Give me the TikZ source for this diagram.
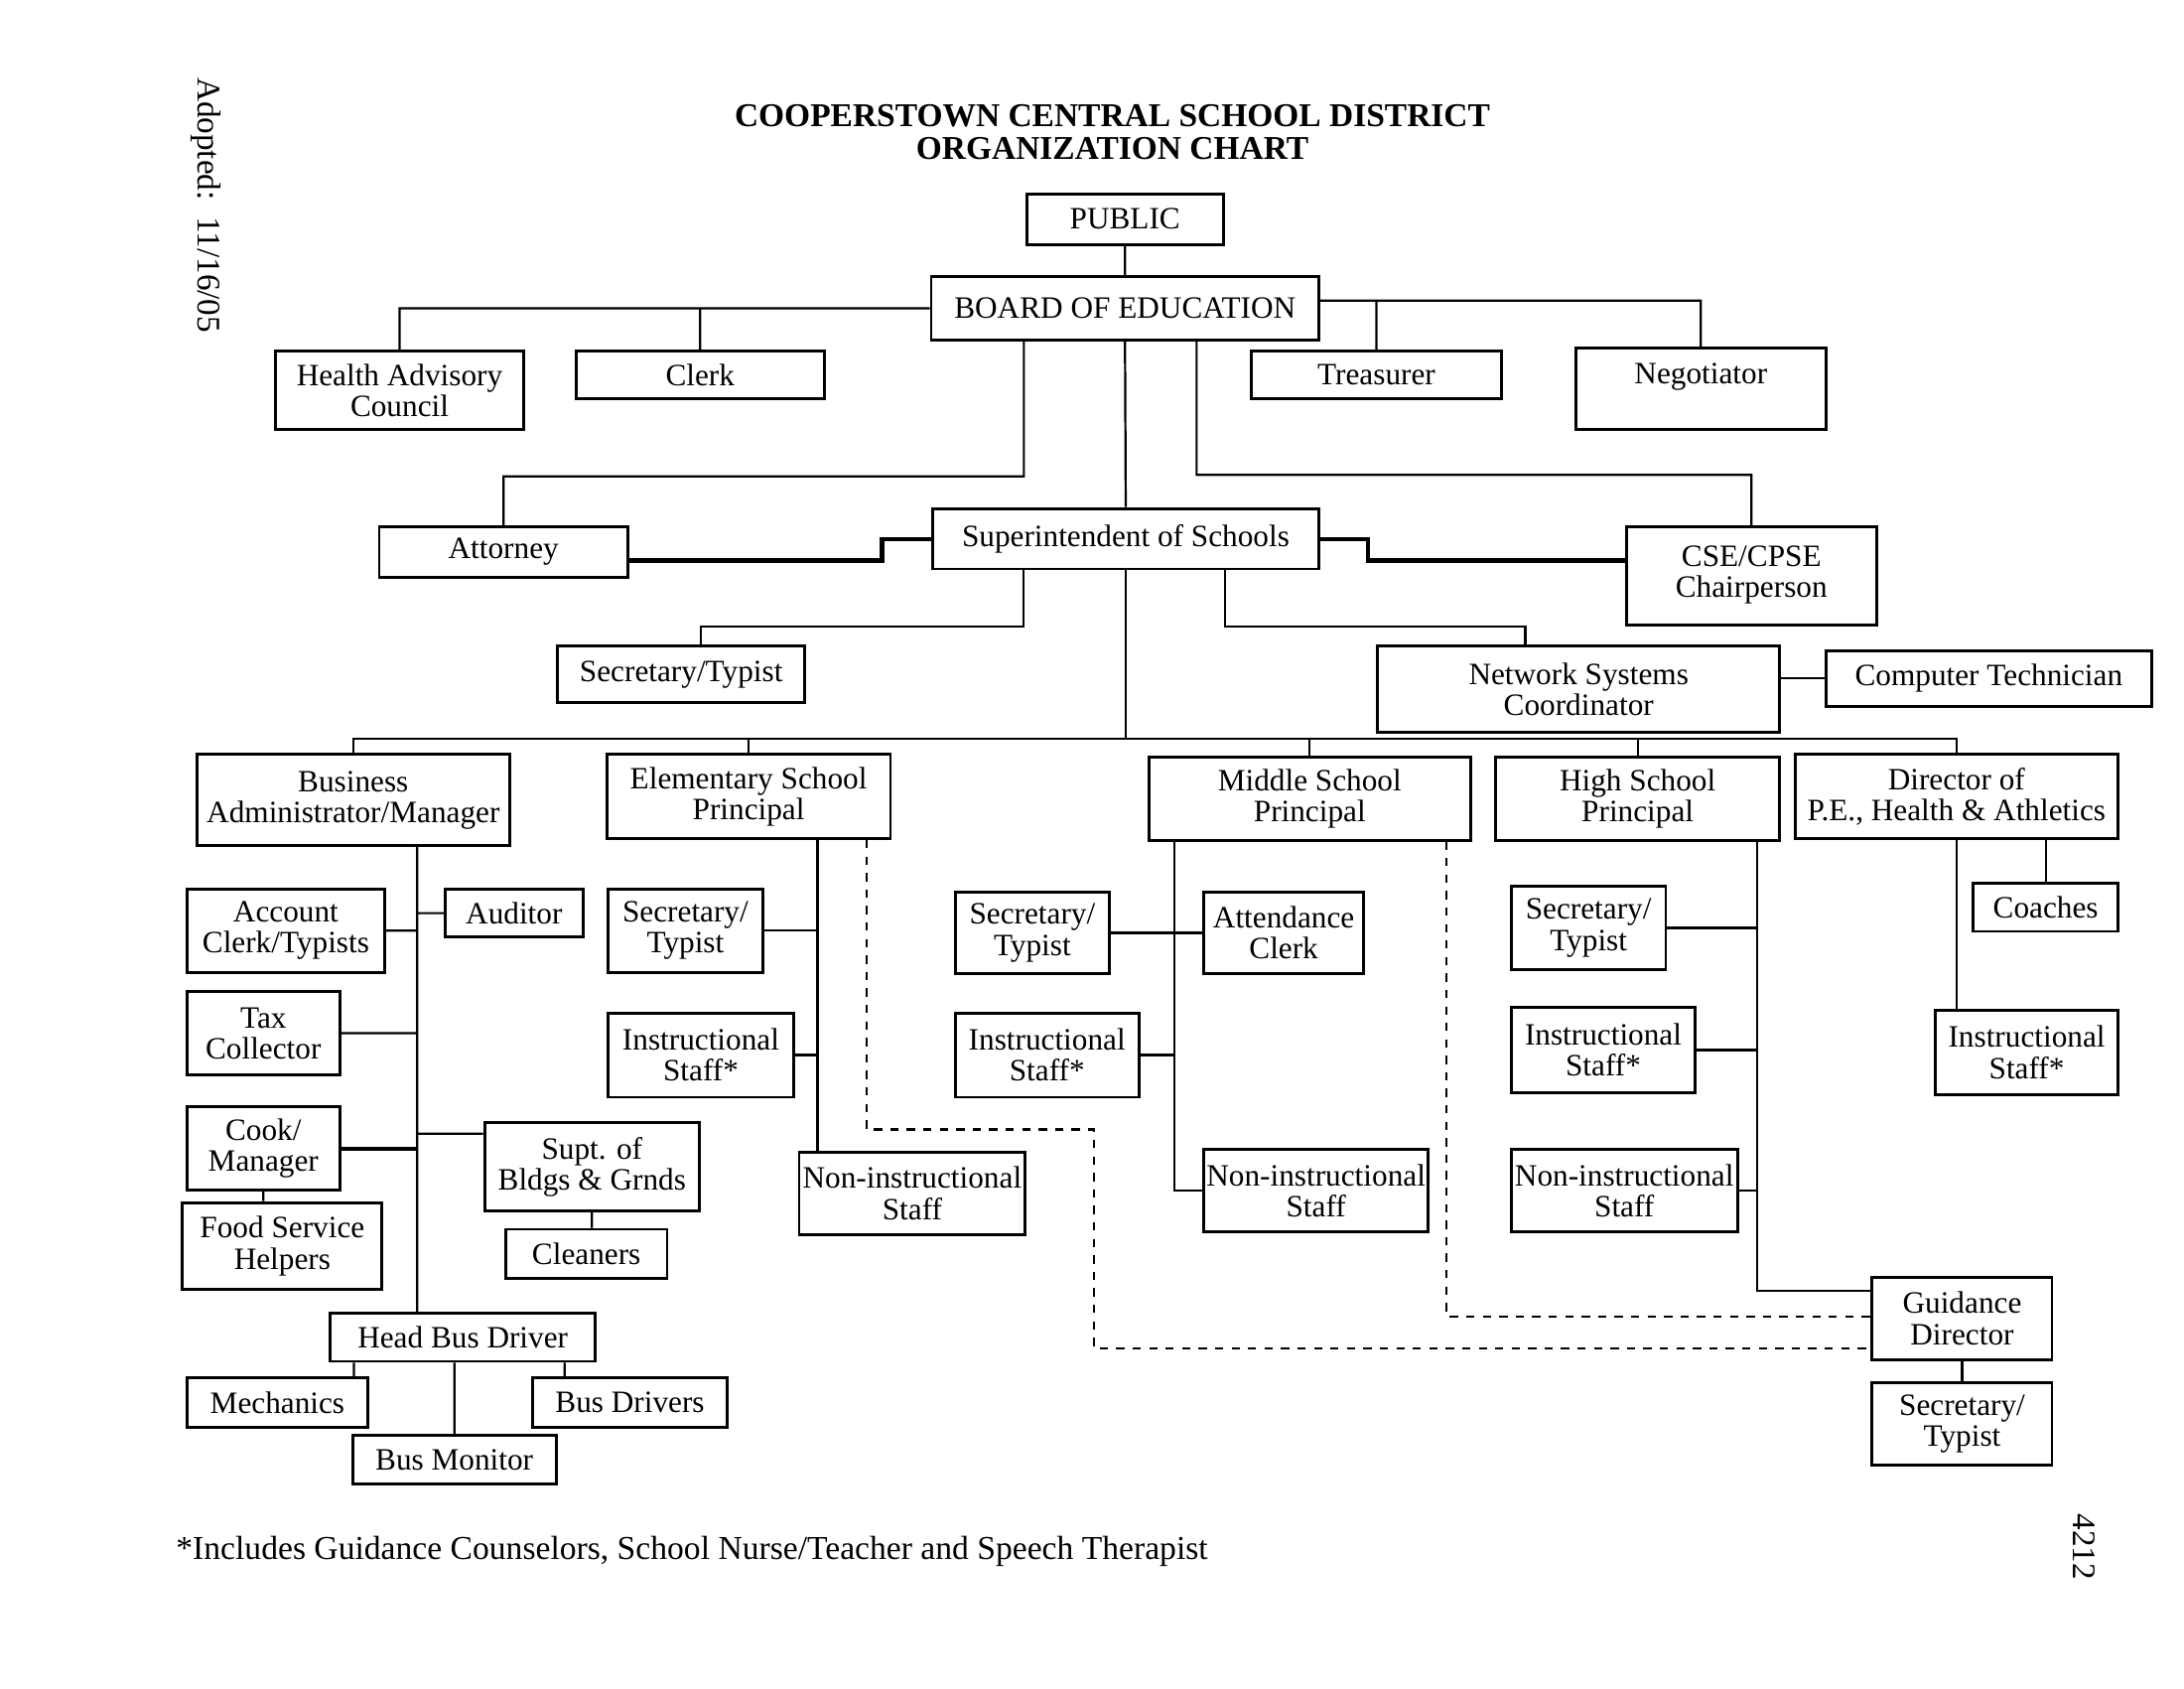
\documentclass[tikz,border=0pt]{standalone}
\usepackage{fontspec}
\setmainfont{Liberation Serif}
\newcommand{\dpx}{0.017968cm}

\begin{document}
\begin{tikzpicture}[x=\dpx, y=-\dpx,
    box/.style 2 args={draw, line width=1.05pt, minimum width=#1*\dpx, minimum height=#2*\dpx,
        inner sep=1pt, align=center, font=\fontsize{11.3}{11.3}\selectfont},
    link/.style={line width=0.8pt},
    thicklink/.style={line width=1.5pt},
    dotlink/.style={line width=0.8pt, dashed}]
    \useasboundingbox (0,0) rectangle (1555,1201.6);
    % headings and margin notes
    \node (title) at (792,94) [align=center, font=\bfseries\fontsize{12.1}{12.2}\selectfont]
        {COOPERSTOWN CENTRAL SCHOOL DISTRICT\\ORGANIZATION CHART};
    \node (adopted) at (147,146) [rotate=-90, font=\fontsize{12}{14}\selectfont] {Adopted:~~11/16/05};
    \node (pageno) at (1484,1101) [rotate=-90, font=\fontsize{12}{14}\selectfont] {4212};
    \node (note) at (125,1104) [anchor=west, inner sep=0pt, font=\fontsize{12.15}{14}\selectfont]
        {*Includes Guidance Counselors, School Nurse/Teacher and Speech Therapist};
    % top
    \node[box={140}{36}] (public) at (801,156) {PUBLIC};
    \node[box={276}{45}] (board) at (801,219.5) {BOARD OF EDUCATION};
    \node[box={177}{56}] (health) at (284.5,278) {Health Advisory\\Council};
    \node[box={177}{34}] (clerk) at (498.5,267) {Clerk};
    \node[box={178}{34}] (treasurer) at (980,267) {Treasurer};
    \node[box={178}{58}] (negotiator) at (1211,277) {Negotiator\\~};
    \node[box={177}{36}] (attorney) at (358.5,393) {Attorney};
    \node[box={275}{43}] (supt) at (801.5,383.5) {Superintendent of Schools};
    \node[box={178}{70}] (cse) at (1247,410) {CSE/CPSE\\Chairperson\\[-8pt]~};
    \node[box={176}{40}] (sec) at (485,480) {Secretary/Typist};
    \node[box={286}{61}] (network) at (1124,490.5) {Network Systems\\Coordinator};
    \node[box={232}{40}] (comptech) at (1416,483) {Computer Technician};
    % principals
    \node[box={223}{65}] (busadmin) at (251.5,569.5) {Business\\Administrator/Manager};
    \node[box={202}{60}] (elem) at (533,567) {Elementary School\\Principal};
    \node[box={229}{59}] (middle) at (932.5,568.5) {Middle School\\Principal};
    \node[box={202}{59}] (high) at (1166,568.5) {High School\\Principal};
    \node[box={230}{60}] (director) at (1393,567) {Director of\\P.E., Health \& Athletics};
    % business
    \node[box={141}{59}] (acct) at (203.5,662.5) {Account\\Clerk/Typists};
    \node[box={98}{34}] (auditor) at (366,650) {Auditor};
    \node[box={109}{59}] (tax) at (187.5,735.5) {Tax\\Collector};
    \node[box={109}{59}] (cook) at (187.5,817.5) {Cook/\\Manager};
    \node[box={142}{62}] (food) at (201,887) {Food Service\\Helpers};
    \node[box={153}{63}] (bldgs) at (421.5,830.5) {Supt. of\\Bldgs \& Grnds};
    \node[box={115}{35}] (cleaners) at (417.5,892.5) {Cleaners};
    \node[box={189}{34}] (headbus) at (329.5,952) {Head Bus Driver};
    \node[box={129}{35}] (mechanics) at (197.5,998.5) {Mechanics};
    \node[box={139}{35}] (busdrivers) at (448.5,998.5) {Bus Drivers};
    \node[box={145}{34}] (busmonitor) at (323.5,1039) {Bus Monitor};
    % elementary
    \node[box={110}{59}] (elemsec) at (488,662.5) {Secretary/\\Typist};
    \node[box={132}{60}] (eleminstr) at (499,751) {Instructional\\Staff*};
    \node[box={161}{59}] (elemnon) at (649.5,849.5) {Non-instructional\\Staff};
    % middle
    \node[box={110}{58}] (midsec) at (735,664) {Secretary/\\Typist};
    \node[box={114}{58}] (attend) at (914,664) {Attendance\\Clerk};
    \node[box={131}{60}] (midinstr) at (745.5,751) {Instructional\\Staff*};
    \node[box={160}{59}] (midnon) at (937,847.5) {Non-instructional\\Staff};
    % high
    \node[box={110}{59}] (highsec) at (1131,660.5) {Secretary/\\Typist};
    \node[box={131}{61}] (highinstr) at (1141.5,747.5) {Instructional\\Staff*};
    \node[box={161}{59}] (highnon) at (1156.5,847.5) {Non-instructional\\Staff};
    \node[box={128}{59}] (guidance) at (1397,938.5) {Guidance\\Director};
    \node[box={128}{59}] (guidsec) at (1397,1013.5) {Secretary/\\Typist};
    % athletics
    \node[box={103}{34}] (coaches) at (1456.5,646) {Coaches};
    \node[box={130}{60}] (peinstr) at (1443,749) {Instructional\\Staff*};

    % board level
    \coordinate (bright) at ([yshift=5.5*\dpx]board.east);
    \draw[link]
    (public) -- (board)
    (board.west) -| (health.north)
    (clerk.north) -- (clerk.north |- board.west)
    (bright) -| (negotiator.north)
    (treasurer.north) -- (treasurer.north |- bright)
    ([xshift=67*\dpx]board.south west) -- ++(0,96) -| (attorney.north)
    ([xshift=190*\dpx]board.south west) -- ++(0,95) -| (cse.north)
    (board.south) -- (supt.north);
    \draw[thicklink]
    (supt.west) -- ++(-35,0) |- ([yshift=-6*\dpx]attorney.east)
    (supt.east) -- ++(34,0) |- ([yshift=11*\dpx]cse.west);
    \draw[link]
    ([xshift=66*\dpx]supt.south west) -- ++(0,40) -| ([xshift=14*\dpx]sec.north)
    ([xshift=209*\dpx]supt.south west) -- ++(0,40) -| ([xshift=-38*\dpx]network.north)
    (comptech.west) -- (comptech.west -| network.east);
    % principals bar
    \draw[link] (supt.south) -- ++(0,120) coordinate (bar);
    \draw[link]
    (busadmin.north) |- (bar) -| (director.north)
    (elem.north) -- (elem.north |- bar)
    (middle.north) -- (middle.north |- bar)
    (high.north) -- (high.north |- bar);
    % business
    \coordinate (bs) at ([xshift=45.5*\dpx]busadmin.south);
    \draw[link]
    (bs) -- ([xshift=-32.5*\dpx]headbus.north)
    (acct.east) -- (acct.east -| bs)
    (auditor.west) -- (auditor.west -| bs)
    (tax.east) -- (tax.east -| bs)
    ([yshift=23.5*\dpx]bldgs.west) -- ([yshift=23.5*\dpx]bldgs.west -| bs)
    (cook.south) -- (cook.south |- food.north)
    (bldgs.south) -- (bldgs.south |- cleaners.north)
    ([xshift=54.5*\dpx]mechanics.north) coordinate (m1) -- (m1 |- headbus.south)
    (busmonitor.north) -- (busmonitor.north |- headbus.south)
    ([xshift=-46.5*\dpx]busdrivers.north) coordinate (d1) -- (d1 |- headbus.south);
    \draw[thicklink] (cook.east) -- (cook.east -| bs);
    % elementary
    \coordinate (es) at ([xshift=49*\dpx]elem.south);
    \draw[link]
    (es) -- (es |- elemnon.north)
    (elemsec.east) -- (elemsec.east -| es)
    (eleminstr.east) -- (eleminstr.east -| es);
    \draw[dotlink] ([xshift=84*\dpx]elem.south) -- ++(0,206) -- ++(162,0)
        |- ([yshift=-21.5*\dpx]guidance.west);
    % middle
    \coordinate (ms) at ([xshift=-96.5*\dpx]middle.south);
    \draw[link]
    (ms) |- (midnon.west)
    (midsec.east) -- (midsec.east -| ms)
    (attend.west) -- (attend.west -| ms)
    (midinstr.east) -- (midinstr.east -| ms);
    \draw[dotlink] ([xshift=97.5*\dpx]middle.south) |- ([yshift=1.5*\dpx]guidance.west);
    % high
    \coordinate (hs) at ([xshift=85*\dpx]high.south);
    \draw[link]
    (hs) |- ([yshift=19.5*\dpx]guidance.west)
    (highsec.east) -- (highsec.east -| hs)
    (highinstr.east) -- (highinstr.east -| hs)
    (highnon.east) -- (highnon.east -| hs)
    (guidance) -- (guidsec);
    % athletics
    \draw[link]
    (director.south) -- (director.south |- peinstr.north)
    (coaches.north) -- (coaches.north |- director.south);
\end{tikzpicture}
\end{document}
